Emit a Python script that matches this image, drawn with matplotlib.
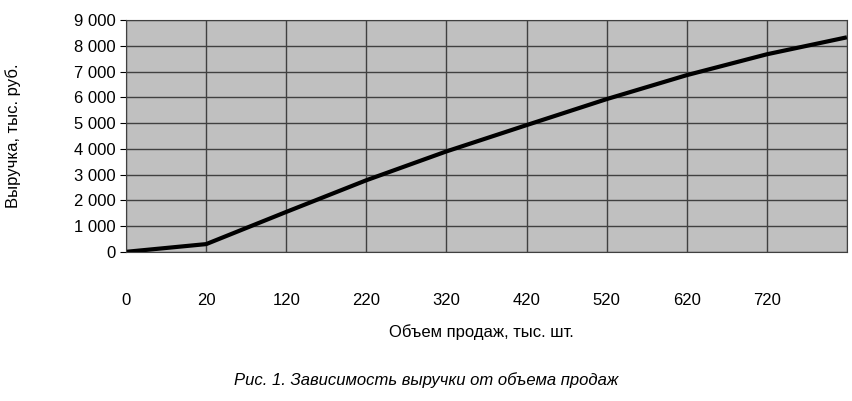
import matplotlib
matplotlib.use("Agg")
import matplotlib.pyplot as plt

categories = ["0", "20", "120", "220", "320", "420", "520", "620", "720", ""]
revenue = [0, 300, 1550, 2780, 3900, 4920, 5930, 6860, 7670, 8330]
yticks = list(range(0, 9001, 1000))

plt.rcParams['font.family'] = ['Liberation Sans', 'DejaVu Sans']
fig = plt.figure(figsize=(8.52, 4.01), dpi=100)
ax = fig.add_axes([0.148, 0.372, 0.846, 0.578])
ax.set_facecolor('#c0c0c0')
x = list(range(len(categories)))
ax.plot(x, revenue, color='black', lw=3, solid_capstyle='butt')
ax.set_xlim(0, len(categories) - 1)
ax.set_ylim(0, 9000)
ax.set_xticks(x)
ax.set_xticklabels(categories, fontsize=12)
ax.set_yticks(yticks)
ax.set_yticklabels([f"{v:,}".replace(",", " ") for v in yticks], fontsize=12)
ax.grid(True, color='#404040', lw=1)
ax.tick_params(axis='x', length=0, pad=30)
ax.tick_params(axis='y', length=4)
for s in ax.spines.values():
    s.set_color('#404040')
ax.set_axisbelow(True)
ax.set_ylabel("Выручка, тыс. руб.", fontsize=12, labelpad=38)
fig.text(0.565, 0.16, "Объем продаж, тыс. шт.", ha='center', fontsize=12)
fig.text(0.5, 0.04, "Рис. 1. Зависимость выручки от объема продаж", ha='center', fontsize=12, style='italic')
fig.savefig("out.png")
